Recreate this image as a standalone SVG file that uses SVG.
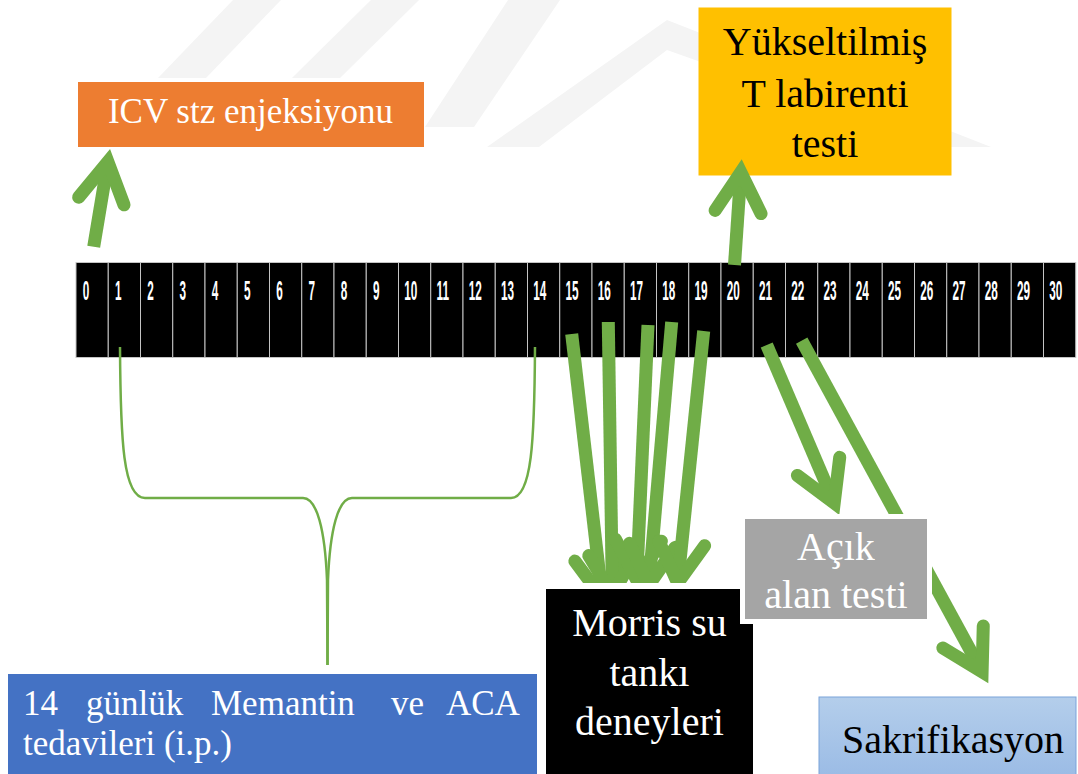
<svg xmlns="http://www.w3.org/2000/svg" width="1078" height="774" viewBox="0 0 1078 774">
<defs>
<style>
.cell{fill:#000;stroke:#c4c4c4;stroke-width:1}
.num{font-family:"Liberation Sans",Arial,sans-serif;font-weight:bold;font-size:28px;fill:#fff}
.lbl{font-family:"Liberation Serif","Times New Roman",serif;font-size:40px;text-anchor:middle}
.w{fill:#fff}
.k{fill:#000}
.arr{stroke:#70AD47;stroke-width:13;fill:none;stroke-linecap:butt}
.brace{stroke:#70AD47;stroke-width:2.5;fill:none}
.wm{fill:#f4f4f4}
.tx{font-family:"Liberation Serif","Times New Roman",serif;font-size:35px;fill:#fff}
</style>
<marker id="head" markerUnits="userSpaceOnUse" orient="auto" markerWidth="120" markerHeight="120" viewBox="-60 -60 120 120" refX="0" refY="0" overflow="visible">
<path d="M-39.8,-23 L0,0 L-39.8,23" fill="none" stroke="#70AD47" stroke-width="13" stroke-linecap="round" stroke-linejoin="miter"/>
</marker>
<linearGradient id="blueg" x1="0" y1="0" x2="0" y2="1">
<stop offset="0" stop-color="#B4CEEB"/>
<stop offset="1" stop-color="#96B8E4"/>
</linearGradient>
</defs>
<rect width="1078" height="774" fill="#fff"/>
<g id="watermark">
<polygon class="wm" points="233,0 281,0 206,78 158,78"/>
<polygon class="wm" points="371,0 419,0 340,78 292,78"/>
<polygon class="wm" points="508,0 560,0 474,127 425,127"/>
<polygon class="wm" points="667,20 991,147 940,147 667,50 539,147 487,147"/>
</g>
<g id="timeline">
<rect class="cell" x="76" y="262.5" width="32.25" height="95"/>
<rect class="cell" x="108.25" y="262.5" width="32.25" height="95"/>
<rect class="cell" x="140.5" y="262.5" width="32.25" height="95"/>
<rect class="cell" x="172.75" y="262.5" width="32.25" height="95"/>
<rect class="cell" x="205" y="262.5" width="32.25" height="95"/>
<rect class="cell" x="237.25" y="262.5" width="32.25" height="95"/>
<rect class="cell" x="269.5" y="262.5" width="32.25" height="95"/>
<rect class="cell" x="301.75" y="262.5" width="32.25" height="95"/>
<rect class="cell" x="334" y="262.5" width="32.25" height="95"/>
<rect class="cell" x="366.25" y="262.5" width="32.25" height="95"/>
<rect class="cell" x="398.5" y="262.5" width="32.25" height="95"/>
<rect class="cell" x="430.75" y="262.5" width="32.25" height="95"/>
<rect class="cell" x="463" y="262.5" width="32.25" height="95"/>
<rect class="cell" x="495.25" y="262.5" width="32.25" height="95"/>
<rect class="cell" x="527.5" y="262.5" width="32.25" height="95"/>
<rect class="cell" x="559.75" y="262.5" width="32.25" height="95"/>
<rect class="cell" x="592" y="262.5" width="32.25" height="95"/>
<rect class="cell" x="624.25" y="262.5" width="32.25" height="95"/>
<rect class="cell" x="656.5" y="262.5" width="32.25" height="95"/>
<rect class="cell" x="688.75" y="262.5" width="32.25" height="95"/>
<rect class="cell" x="721" y="262.5" width="32.25" height="95"/>
<rect class="cell" x="753.25" y="262.5" width="32.25" height="95"/>
<rect class="cell" x="785.5" y="262.5" width="32.25" height="95"/>
<rect class="cell" x="817.75" y="262.5" width="32.25" height="95"/>
<rect class="cell" x="850" y="262.5" width="32.25" height="95"/>
<rect class="cell" x="882.25" y="262.5" width="32.25" height="95"/>
<rect class="cell" x="914.5" y="262.5" width="32.25" height="95"/>
<rect class="cell" x="946.75" y="262.5" width="32.25" height="95"/>
<rect class="cell" x="979" y="262.5" width="32.25" height="95"/>
<rect class="cell" x="1011.25" y="262.5" width="32.25" height="95"/>
<rect class="cell" x="1043.5" y="262.5" width="32.25" height="95"/>
<text class="num" transform="translate(82.8,300) scale(0.42,1)">0</text>
<text class="num" transform="translate(115.05,300) scale(0.42,1)">1</text>
<text class="num" transform="translate(147.3,300) scale(0.42,1)">2</text>
<text class="num" transform="translate(179.55,300) scale(0.42,1)">3</text>
<text class="num" transform="translate(211.8,300) scale(0.42,1)">4</text>
<text class="num" transform="translate(244.05,300) scale(0.42,1)">5</text>
<text class="num" transform="translate(276.3,300) scale(0.42,1)">6</text>
<text class="num" transform="translate(308.55,300) scale(0.42,1)">7</text>
<text class="num" transform="translate(340.8,300) scale(0.42,1)">8</text>
<text class="num" transform="translate(373.05,300) scale(0.42,1)">9</text>
<text class="num" transform="translate(404.3,300) scale(0.42,1)">10</text>
<text class="num" transform="translate(436.55,300) scale(0.42,1)">11</text>
<text class="num" transform="translate(468.8,300) scale(0.42,1)">12</text>
<text class="num" transform="translate(501.05,300) scale(0.42,1)">13</text>
<text class="num" transform="translate(533.3,300) scale(0.42,1)">14</text>
<text class="num" transform="translate(565.55,300) scale(0.42,1)">15</text>
<text class="num" transform="translate(597.8,300) scale(0.42,1)">16</text>
<text class="num" transform="translate(630.05,300) scale(0.42,1)">17</text>
<text class="num" transform="translate(662.3,300) scale(0.42,1)">18</text>
<text class="num" transform="translate(694.55,300) scale(0.42,1)">19</text>
<text class="num" transform="translate(726.8,300) scale(0.42,1)">20</text>
<text class="num" transform="translate(759.05,300) scale(0.42,1)">21</text>
<text class="num" transform="translate(791.3,300) scale(0.42,1)">22</text>
<text class="num" transform="translate(823.55,300) scale(0.42,1)">23</text>
<text class="num" transform="translate(855.8,300) scale(0.42,1)">24</text>
<text class="num" transform="translate(888.05,300) scale(0.42,1)">25</text>
<text class="num" transform="translate(920.3,300) scale(0.42,1)">26</text>
<text class="num" transform="translate(952.55,300) scale(0.42,1)">27</text>
<text class="num" transform="translate(984.8,300) scale(0.42,1)">28</text>
<text class="num" transform="translate(1017.05,300) scale(0.42,1)">29</text>
<text class="num" transform="translate(1049.3,300) scale(0.42,1)">30</text>
</g>
<g id="icv">
<rect x="78" y="82" width="346" height="65" fill="#ED7D31"/>
<text class="lbl w" x="250.5" y="123" style="font-size:35px">ICV stz enjeksiyonu</text>
</g>
<g id="tmaze">
<rect x="698.5" y="7.5" width="253" height="168" fill="#FFC000"/>
<text class="lbl k" x="825" y="55">Yükseltilmiş</text>
<text class="lbl k" x="825" y="106.5">T labirenti</text>
<text class="lbl k" x="825" y="156.5">testi</text>
</g>
<g id="connectors">
<line class="arr" x1="93.7" y1="246.7" x2="107.9" y2="161.8" marker-end="url(#head)"/>
<line class="arr" x1="734.5" y1="265" x2="740.8" y2="172.3" marker-end="url(#head)"/>
<line class="arr" x1="571.7" y1="334" x2="602.3" y2="598" marker-end="url(#head)"/>
<line class="arr" x1="608.3" y1="322" x2="612.4" y2="595" marker-end="url(#head)"/>
<line class="arr" x1="648" y1="325" x2="636.7" y2="580" marker-end="url(#head)"/>
<line class="arr" x1="671.7" y1="322" x2="648.9" y2="585" marker-end="url(#head)"/>
<line class="arr" x1="703.7" y1="331" x2="677.7" y2="583" marker-end="url(#head)"/>
<line class="arr" x1="766.7" y1="345" x2="834.2" y2="503" marker-end="url(#head)"/>
<line class="arr" x1="801.7" y1="340.7" x2="982.1" y2="671.9" marker-end="url(#head)"/>
<path class="brace" d="M120,347 C120.5,440 123,498 145,498 L303,498 C317,498 325,530 327,580 L327.5,665"/>
<path class="brace" d="M535,347 C534.5,440 532,498 511,498 L352,498 C338,498 330,530 328,580 L327.5,665"/>
</g>
<g id="morris">
<rect x="543" y="586" width="213" height="200" fill="#000" stroke="#fff" stroke-width="6"/>
<text class="lbl w" x="649.5" y="636">Morris su</text>
<text class="lbl w" x="649.5" y="686">tankı</text>
<text class="lbl w" x="649.5" y="735">deneyleri</text>
</g>
<g id="acik">
<rect x="742.5" y="516.5" width="187" height="105" fill="#A5A5A5" stroke="#fff" stroke-width="5"/>
<text class="lbl w" x="836" y="560">Açık</text>
<text class="lbl w" x="836" y="608">alan testi</text>
</g>
<g id="sakrifikasyon">
<rect x="819" y="697" width="257" height="95" fill="url(#blueg)" stroke="#7BA3DA" stroke-width="1"/>
<text class="lbl k" x="953" y="753">Sakrifikasyon</text>
</g>
<g id="treatment">
<rect x="8" y="674" width="529" height="110" fill="#4472C4"/>
<text class="tx" y="715"><tspan x="23">14</tspan><tspan x="86">günlük</tspan><tspan x="211">Memantin</tspan><tspan x="391">ve</tspan><tspan x="446">ACA</tspan></text>
<text class="tx" x="23" y="755">tedavileri (i.p.)</text>
</g>
</svg>
